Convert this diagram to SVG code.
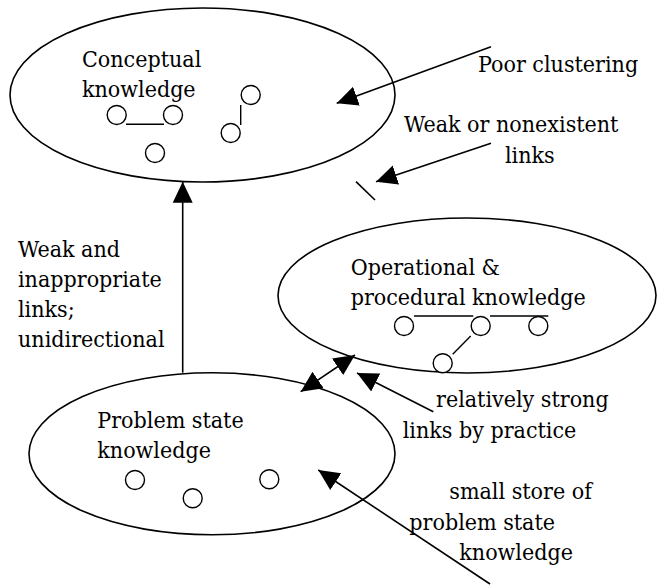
<svg xmlns="http://www.w3.org/2000/svg" width="658" height="586" viewBox="0 0 658 586">
  <style>
    .shell { fill: none; stroke: #000; stroke-width: 1.6; }
    .dot { fill: #fff; stroke: #000; stroke-width: 1.4; }
    .link { stroke: #000; stroke-width: 1.4; fill: none; }
    .arrow { stroke: #000; stroke-width: 1.6; fill: none; }
    .lbl { font-family: 'DejaVu Serif Condensed', 'DejaVu Serif', 'Liberation Serif', serif; font-stretch: condensed; font-size: 23px; fill: #000; }
  </style>
  <defs>
    <marker id="head" markerUnits="userSpaceOnUse" markerWidth="22" markerHeight="22" refX="21" refY="10" orient="auto-start-reverse" viewBox="0 0 22 20">
      <path d="M0,0 L21,10 L0,20 z" fill="#000"/>
    </marker>
  </defs>

  <rect width="658" height="586" fill="#fff"/>

  <!-- Conceptual knowledge store -->
  <g id="conceptual">
    <ellipse class="shell" cx="202.5" cy="95" rx="192.5" ry="87"/>
    <text class="lbl" x="82" y="67">Conceptual</text>
    <text class="lbl" x="82" y="97">knowledge</text>
    <line class="link" x1="126" y1="124.3" x2="164" y2="124.3"/>
    <line class="link" x1="240.7" y1="105" x2="240.7" y2="125"/>
    <circle class="dot" cx="116.7" cy="115" r="9.5"/>
    <circle class="dot" cx="173" cy="115" r="9.5"/>
    <circle class="dot" cx="155" cy="153" r="9.5"/>
    <circle class="dot" cx="250.7" cy="95" r="9.5"/>
    <circle class="dot" cx="230.7" cy="133" r="9.5"/>
  </g>

  <!-- Operational & procedural knowledge store -->
  <g id="operational">
    <ellipse class="shell" cx="467" cy="295.5" rx="189" ry="77.5"/>
    <text class="lbl" x="350.7" y="275">Operational &amp;</text>
    <text class="lbl" x="350.7" y="305">procedural knowledge</text>
    <line class="link" x1="414" y1="316" x2="473.3" y2="316"/>
    <line class="link" x1="490" y1="316" x2="548.3" y2="316"/>
    <line class="link" x1="470.7" y1="336" x2="452.7" y2="354.3"/>
    <circle class="dot" cx="404" cy="326" r="9.5"/>
    <circle class="dot" cx="480.7" cy="326" r="9.5"/>
    <circle class="dot" cx="538.3" cy="326" r="9.5"/>
    <circle class="dot" cx="442.7" cy="363.3" r="9.5"/>
  </g>

  <!-- Problem state knowledge store -->
  <g id="problem-state">
    <ellipse class="shell" cx="212" cy="453.8" rx="183" ry="81"/>
    <text class="lbl" x="97.3" y="428.3">Problem state</text>
    <text class="lbl" x="97.3" y="458.3">knowledge</text>
    <circle class="dot" cx="135" cy="480" r="9.5"/>
    <circle class="dot" cx="192.7" cy="498.3" r="9.5"/>
    <circle class="dot" cx="269.3" cy="479.3" r="9.5"/>
  </g>

  <!-- Annotations -->
  <g id="annotations">
    <text class="lbl" x="478" y="71.7">Poor clustering</text>
    <text class="lbl" x="404" y="131.7">Weak or nonexistent</text>
    <text class="lbl" x="505" y="163.3">links</text>
    <text class="lbl" x="18" y="257">Weak and</text>
    <text class="lbl" x="18" y="287">inappropriate</text>
    <text class="lbl" x="18" y="317">links;</text>
    <text class="lbl" x="18" y="347">unidirectional</text>
    <text class="lbl" x="436" y="406.7">relatively strong</text>
    <text class="lbl" x="402.7" y="438.3">links by practice</text>
    <text class="lbl" x="449.3" y="499.3">small store of</text>
    <text class="lbl" x="409.3" y="530">problem state</text>
    <text class="lbl" x="459.3" y="560">knowledge</text>
  </g>

  <!-- Connectors -->
  <g id="connectors">
    <line class="arrow" x1="182.7" y1="372.7" x2="182.7" y2="181.7" marker-end="url(#head)"/>
    <line class="arrow" x1="300.7" y1="391.7" x2="355" y2="355" marker-start="url(#head)" marker-end="url(#head)"/>
    <line class="arrow" x1="491" y1="46.7" x2="336.7" y2="103.3" marker-end="url(#head)"/>
    <line class="arrow" x1="491" y1="143.3" x2="376" y2="181.7" marker-end="url(#head)"/>
    <line class="arrow" x1="356" y1="181.7" x2="375" y2="200"/>
    <line class="arrow" x1="433.3" y1="411.7" x2="357" y2="373" marker-end="url(#head)"/>
    <line class="arrow" x1="490" y1="584" x2="318.3" y2="470" marker-end="url(#head)"/>
  </g>
</svg>
